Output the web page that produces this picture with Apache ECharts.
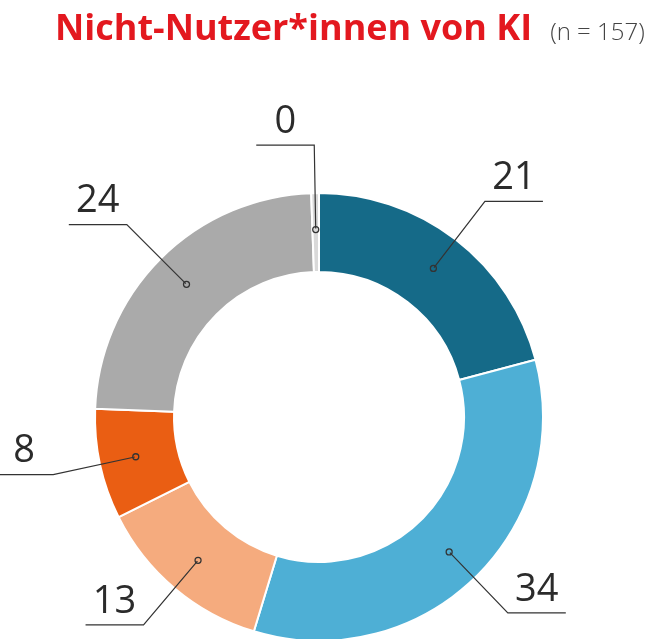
<!DOCTYPE html>
<html>
<head>
<meta charset="utf-8">
<script src="https://cdn.jsdelivr.net/npm/echarts@6/dist/echarts.min.js"></script>
<style>
  html, body { margin: 0; padding: 0; background: #fff; }
  #chart { width: 650px; height: 639px; }
</style>
</head>
<body>
<div id="chart"></div>
<script>
// values in percent, clockwise from 12 o'clock
const categories = ['Gruppe 1', 'Gruppe 2', 'Gruppe 3', 'Gruppe 4', 'Gruppe 5', 'Gruppe 6']
const values = [21, 34, 13, 8, 24, 0]
const colors = ['#156a88', '#4eafd5', '#f5ab7e', '#ea5e13', '#aaaaaa', '#d9d9d9']

const CX = 319, CY = 417
const R_IN = 145, R_OUT = 224
const R_MID = (R_IN + R_OUT) / 2

const chart = echarts.init(document.getElementById('chart'))

chart.setOption({
  animation: false,
  title: {
    left: 50,
    top: 7,
    text: '{a|Nicht-Nutzer*innen von KI}{b|(n = 157)}',
    textStyle: {
      rich: {
        a: { fontFamily: 'Open Sans', fontWeight: 'bold', fontSize: 36, color: '#e3181f' },
        b: { fontFamily: 'Open Sans', fontWeight: 300, fontSize: 24, color: '#444', padding: [6, 0, 0, 18] }
      }
    }
  },
  series: [
    {
      // coloured ring, its inside label is the little hollow dot
      type: 'pie',
      z: 2,
      center: [CX, CY],
      radius: [R_IN, R_OUT],
      startAngle: 90,
      clockwise: true,
      minAngle: 2,
      silent: true,
      itemStyle: { borderColor: '#fff', borderWidth: 2 },
      data: categories.map((name, i) => ({ name, value: values[i], itemStyle: { color: colors[i] } })),
      label: {
        show: true,
        position: 'inside',
        formatter: '{o|}',
        rich: {
          o: { width: 6, height: 6, borderRadius: 4, borderColor: '#333', borderWidth: 1.3 }
        }
      },
      labelLine: { show: false }
    },
    {
      // invisible ring ending at the dots, so the label lines start there
      type: 'pie',
      z: 5,
      center: [CX, CY],
      radius: [R_MID - 4, R_MID + 4],
      startAngle: 90,
      clockwise: true,
      minAngle: 2,
      avoidLabelOverlap: false,
      silent: true,
      itemStyle: { color: 'rgba(0,0,0,0)', borderWidth: 0 },
      data: categories.map((name, i) => ({ name, value: values[i] })),
      label: {
        show: true,
        position: 'outside',
        formatter: '{c}',
        fontFamily: 'Open Sans',
        fontSize: 38,
        color: '#2b2b2b'
      },
      labelLine: {
        show: true,
        length: 272 - R_MID - 4,
        length2: 58,
        lineStyle: { color: '#333', width: 1.2 }
      },
      // number centred above the horizontal part of the line
      labelLayout: (p) => {
        const pts = p.labelLinePoints
        if (!pts) return {}
        const b = pts[1], c = pts[2]
        return {
          x: (b[0] + c[0]) / 2,
          y: c[1] - 4,
          align: 'center',
          verticalAlign: 'bottom',
          labelLinePoints: pts.map(q => [q[0], q[1]])
        }
      }
    }
  ]
})
</script>
</body>
</html>
